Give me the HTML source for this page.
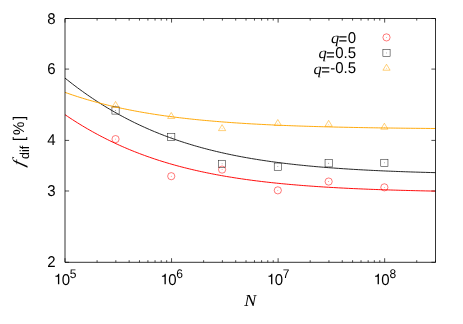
<!DOCTYPE html>
<html><head><meta charset="utf-8"><title>plot</title>
<style>
html,body{margin:0;padding:0;background:#fff;}
svg{display:block;will-change:transform;}
text{font-family:"Liberation Sans",sans-serif;font-size:15.6px;fill:#000;text-rendering:geometricPrecision;}
.it{font-family:"Liberation Serif",serif;font-style:italic;}
.sm{font-size:12.5px;}
.sb{font-size:13px;}
</style></head><body>
<svg width="463" height="324" viewBox="0 0 463 324">
<rect width="463" height="324" fill="#fff"/>
<path d="M65.00,262.3 v-4.1 M65.00,18.5 v4.1 M97.08,262.3 v-2.1 M97.08,18.5 v2.1 M115.84,262.3 v-2.1 M115.84,18.5 v2.1 M129.15,262.3 v-2.1 M129.15,18.5 v2.1 M139.48,262.3 v-2.1 M139.48,18.5 v2.1 M147.91,262.3 v-2.1 M147.91,18.5 v2.1 M155.05,262.3 v-2.1 M155.05,18.5 v2.1 M161.23,262.3 v-2.1 M161.23,18.5 v2.1 M166.68,262.3 v-2.1 M166.68,18.5 v2.1 M171.55,262.3 v-4.1 M171.55,18.5 v4.1 M203.63,262.3 v-2.1 M203.63,18.5 v2.1 M222.39,262.3 v-2.1 M222.39,18.5 v2.1 M235.71,262.3 v-2.1 M235.71,18.5 v2.1 M246.03,262.3 v-2.1 M246.03,18.5 v2.1 M254.47,262.3 v-2.1 M254.47,18.5 v2.1 M261.60,262.3 v-2.1 M261.60,18.5 v2.1 M267.78,262.3 v-2.1 M267.78,18.5 v2.1 M273.23,262.3 v-2.1 M273.23,18.5 v2.1 M278.11,262.3 v-4.1 M278.11,18.5 v4.1 M310.18,262.3 v-2.1 M310.18,18.5 v2.1 M328.95,262.3 v-2.1 M328.95,18.5 v2.1 M342.26,262.3 v-2.1 M342.26,18.5 v2.1 M352.59,262.3 v-2.1 M352.59,18.5 v2.1 M361.02,262.3 v-2.1 M361.02,18.5 v2.1 M368.16,262.3 v-2.1 M368.16,18.5 v2.1 M374.33,262.3 v-2.1 M374.33,18.5 v2.1 M379.79,262.3 v-2.1 M379.79,18.5 v2.1 M384.66,262.3 v-4.1 M384.66,18.5 v4.1 M416.74,262.3 v-2.1 M416.74,18.5 v2.1 M435.50,262.3 v-2.1 M435.50,18.5 v2.1 M65.0,262.30 h4.1 M435.5,262.30 h-4.1 M65.0,190.99 h4.1 M435.5,190.99 h-4.1 M65.0,140.40 h4.1 M435.5,140.40 h-4.1 M65.0,69.09 h4.1 M435.5,69.09 h-4.1 M65.0,18.50 h4.1 M435.5,18.50 h-4.1" stroke="#000" stroke-width="0.7" fill="none"/>
<path d="M65.00,114.67 L67.49,116.35 L69.97,118.00 L72.46,119.62 L74.95,121.22 L77.43,122.78 L79.92,124.32 L82.41,125.83 L84.89,127.32 L87.38,128.77 L89.87,130.20 L92.35,131.60 L94.84,132.98 L97.33,134.33 L99.81,135.66 L102.30,136.96 L104.79,138.23 L107.27,139.48 L109.76,140.70 L112.24,141.91 L114.73,143.08 L117.22,144.24 L119.70,145.37 L122.19,146.47 L124.68,147.56 L127.16,148.62 L129.65,149.66 L132.14,150.68 L134.62,151.68 L137.11,152.65 L139.60,153.61 L142.08,154.54 L144.57,155.46 L147.06,156.36 L149.54,157.23 L152.03,158.09 L154.52,158.93 L157.00,159.75 L159.49,160.55 L161.98,161.34 L164.46,162.10 L166.95,162.85 L169.44,163.59 L171.92,164.30 L174.41,165.01 L176.90,165.69 L179.38,166.36 L181.87,167.01 L184.36,167.65 L186.84,168.28 L189.33,168.89 L191.82,169.48 L194.30,170.07 L196.79,170.63 L199.28,171.19 L201.76,171.73 L204.25,172.26 L206.73,172.78 L209.22,173.28 L211.71,173.77 L214.19,174.26 L216.68,174.72 L219.17,175.18 L221.65,175.63 L224.14,176.07 L226.63,176.49 L229.11,176.91 L231.60,177.31 L234.09,177.71 L236.57,178.10 L239.06,178.47 L241.55,178.84 L244.03,179.20 L246.52,179.55 L249.01,179.89 L251.49,180.22 L253.98,180.55 L256.47,180.86 L258.95,181.17 L261.44,181.47 L263.93,181.77 L266.41,182.05 L268.90,182.33 L271.39,182.60 L273.87,182.87 L276.36,183.13 L278.85,183.38 L281.33,183.63 L283.82,183.86 L286.31,184.10 L288.79,184.33 L291.28,184.55 L293.77,184.76 L296.25,184.98 L298.74,185.18 L301.22,185.38 L303.71,185.58 L306.20,185.77 L308.68,185.95 L311.17,186.13 L313.66,186.31 L316.14,186.48 L318.63,186.65 L321.12,186.81 L323.60,186.97 L326.09,187.12 L328.58,187.27 L331.06,187.42 L333.55,187.56 L336.04,187.70 L338.52,187.84 L341.01,187.97 L343.50,188.10 L345.98,188.23 L348.47,188.35 L350.96,188.47 L353.44,188.58 L355.93,188.70 L358.42,188.81 L360.90,188.91 L363.39,189.02 L365.88,189.12 L368.36,189.22 L370.85,189.32 L373.34,189.41 L375.82,189.50 L378.31,189.59 L380.80,189.68 L383.28,189.76 L385.77,189.84 L388.26,189.92 L390.74,190.00 L393.23,190.08 L395.71,190.15 L398.20,190.23 L400.69,190.30 L403.17,190.36 L405.66,190.43 L408.15,190.50 L410.63,190.56 L413.12,190.62 L415.61,190.68 L418.09,190.74 L420.58,190.80 L423.07,190.85 L425.55,190.91 L428.04,190.96 L430.53,191.01 L433.01,191.06 L435.50,191.11" fill="none" stroke="#ff0000" stroke-width="0.95"/>
<path d="M65.00,78.10 L67.49,80.09 L69.97,82.04 L72.46,83.96 L74.95,85.86 L77.43,87.72 L79.92,89.55 L82.41,91.35 L84.89,93.13 L87.38,94.87 L89.87,96.58 L92.35,98.27 L94.84,99.92 L97.33,101.55 L99.81,103.14 L102.30,104.71 L104.79,106.26 L107.27,107.77 L109.76,109.26 L112.24,110.72 L114.73,112.15 L117.22,113.55 L119.70,114.93 L122.19,116.29 L124.68,117.61 L127.16,118.92 L129.65,120.19 L132.14,121.45 L134.62,122.67 L137.11,123.88 L139.60,125.06 L142.08,126.21 L144.57,127.34 L147.06,128.45 L149.54,129.54 L152.03,130.61 L154.52,131.65 L157.00,132.67 L159.49,133.67 L161.98,134.65 L164.46,135.61 L166.95,136.54 L169.44,137.46 L171.92,138.36 L174.41,139.24 L176.90,140.10 L179.38,140.94 L181.87,141.76 L184.36,142.57 L186.84,143.35 L189.33,144.12 L191.82,144.87 L194.30,145.61 L196.79,146.33 L199.28,147.03 L201.76,147.72 L204.25,148.39 L206.73,149.04 L209.22,149.69 L211.71,150.31 L214.19,150.92 L216.68,151.52 L219.17,152.10 L221.65,152.67 L224.14,153.23 L226.63,153.77 L229.11,154.30 L231.60,154.82 L234.09,155.33 L236.57,155.82 L239.06,156.30 L241.55,156.78 L244.03,157.24 L246.52,157.68 L249.01,158.12 L251.49,158.55 L253.98,158.96 L256.47,159.37 L258.95,159.77 L261.44,160.16 L263.93,160.53 L266.41,160.90 L268.90,161.26 L271.39,161.61 L273.87,161.95 L276.36,162.29 L278.85,162.61 L281.33,162.93 L283.82,163.24 L286.31,163.54 L288.79,163.84 L291.28,164.12 L293.77,164.40 L296.25,164.68 L298.74,164.94 L301.22,165.20 L303.71,165.45 L306.20,165.70 L308.68,165.94 L311.17,166.17 L313.66,166.40 L316.14,166.63 L318.63,166.84 L321.12,167.05 L323.60,167.26 L326.09,167.46 L328.58,167.66 L331.06,167.85 L333.55,168.03 L336.04,168.21 L338.52,168.39 L341.01,168.56 L343.50,168.73 L345.98,168.89 L348.47,169.05 L350.96,169.21 L353.44,169.36 L355.93,169.51 L358.42,169.65 L360.90,169.79 L363.39,169.93 L365.88,170.06 L368.36,170.19 L370.85,170.31 L373.34,170.44 L375.82,170.56 L378.31,170.67 L380.80,170.79 L383.28,170.90 L385.77,171.00 L388.26,171.11 L390.74,171.21 L393.23,171.31 L395.71,171.41 L398.20,171.50 L400.69,171.59 L403.17,171.68 L405.66,171.77 L408.15,171.85 L410.63,171.94 L413.12,172.02 L415.61,172.10 L418.09,172.17 L420.58,172.25 L423.07,172.32 L425.55,172.39 L428.04,172.46 L430.53,172.52 L433.01,172.59 L435.50,172.65" fill="none" stroke="#1a1a1a" stroke-width="0.95"/>
<path d="M65.00,92.37 L67.49,93.25 L69.97,94.12 L72.46,94.96 L74.95,95.79 L77.43,96.60 L79.92,97.39 L82.41,98.16 L84.89,98.92 L87.38,99.66 L89.87,100.38 L92.35,101.09 L94.84,101.78 L97.33,102.46 L99.81,103.12 L102.30,103.76 L104.79,104.39 L107.27,105.01 L109.76,105.61 L112.24,106.20 L114.73,106.77 L117.22,107.33 L119.70,107.88 L122.19,108.41 L124.68,108.93 L127.16,109.44 L129.65,109.94 L132.14,110.42 L134.62,110.90 L137.11,111.36 L139.60,111.81 L142.08,112.25 L144.57,112.68 L147.06,113.10 L149.54,113.51 L152.03,113.91 L154.52,114.30 L157.00,114.68 L159.49,115.05 L161.98,115.41 L164.46,115.77 L166.95,116.11 L169.44,116.45 L171.92,116.77 L174.41,117.09 L176.90,117.41 L179.38,117.71 L181.87,118.01 L184.36,118.29 L186.84,118.58 L189.33,118.85 L191.82,119.12 L194.30,119.38 L196.79,119.63 L199.28,119.88 L201.76,120.13 L204.25,120.36 L206.73,120.59 L209.22,120.81 L211.71,121.03 L214.19,121.25 L216.68,121.45 L219.17,121.66 L221.65,121.85 L224.14,122.05 L226.63,122.23 L229.11,122.41 L231.60,122.59 L234.09,122.77 L236.57,122.93 L239.06,123.10 L241.55,123.26 L244.03,123.42 L246.52,123.57 L249.01,123.72 L251.49,123.86 L253.98,124.00 L256.47,124.14 L258.95,124.27 L261.44,124.40 L263.93,124.53 L266.41,124.65 L268.90,124.77 L271.39,124.89 L273.87,125.00 L276.36,125.12 L278.85,125.22 L281.33,125.33 L283.82,125.43 L286.31,125.53 L288.79,125.63 L291.28,125.72 L293.77,125.82 L296.25,125.91 L298.74,126.00 L301.22,126.08 L303.71,126.16 L306.20,126.25 L308.68,126.32 L311.17,126.40 L313.66,126.48 L316.14,126.55 L318.63,126.62 L321.12,126.69 L323.60,126.76 L326.09,126.82 L328.58,126.89 L331.06,126.95 L333.55,127.01 L336.04,127.07 L338.52,127.13 L341.01,127.18 L343.50,127.24 L345.98,127.29 L348.47,127.34 L350.96,127.39 L353.44,127.44 L355.93,127.49 L358.42,127.53 L360.90,127.58 L363.39,127.62 L365.88,127.67 L368.36,127.71 L370.85,127.75 L373.34,127.79 L375.82,127.83 L378.31,127.86 L380.80,127.90 L383.28,127.94 L385.77,127.97 L388.26,128.01 L390.74,128.04 L393.23,128.07 L395.71,128.10 L398.20,128.13 L400.69,128.16 L403.17,128.19 L405.66,128.22 L408.15,128.25 L410.63,128.27 L413.12,128.30 L415.61,128.32 L418.09,128.35 L420.58,128.37 L423.07,128.39 L425.55,128.42 L428.04,128.44 L430.53,128.46 L433.01,128.48 L435.50,128.50" fill="none" stroke="#ffa500" stroke-width="0.95"/>
<circle cx="115.54" cy="139.10" r="3.6" fill="none" stroke="#ff0000" stroke-width="0.52"/><circle cx="115.54" cy="139.10" r="0.45" fill="#ff0000" opacity="0.75"/>
<circle cx="171.25" cy="176.20" r="3.6" fill="none" stroke="#ff0000" stroke-width="0.52"/><circle cx="171.25" cy="176.20" r="0.45" fill="#ff0000" opacity="0.75"/>
<circle cx="222.09" cy="169.60" r="3.6" fill="none" stroke="#ff0000" stroke-width="0.52"/><circle cx="222.09" cy="169.60" r="0.45" fill="#ff0000" opacity="0.75"/>
<circle cx="277.81" cy="190.35" r="3.6" fill="none" stroke="#ff0000" stroke-width="0.52"/><circle cx="277.81" cy="190.35" r="0.45" fill="#ff0000" opacity="0.75"/>
<circle cx="328.65" cy="181.55" r="3.6" fill="none" stroke="#ff0000" stroke-width="0.52"/><circle cx="328.65" cy="181.55" r="0.45" fill="#ff0000" opacity="0.75"/>
<circle cx="384.36" cy="187.35" r="3.6" fill="none" stroke="#ff0000" stroke-width="0.52"/><circle cx="384.36" cy="187.35" r="0.45" fill="#ff0000" opacity="0.75"/>
<rect x="111.94" y="106.90" width="7.2" height="7.2" fill="none" stroke="#1a1a1a" stroke-width="0.52"/><circle cx="115.54" cy="110.50" r="0.45" fill="#1a1a1a" opacity="0.75"/>
<rect x="167.65" y="133.30" width="7.2" height="7.2" fill="none" stroke="#1a1a1a" stroke-width="0.52"/><circle cx="171.25" cy="136.90" r="0.45" fill="#1a1a1a" opacity="0.75"/>
<rect x="218.49" y="160.25" width="7.2" height="7.2" fill="none" stroke="#1a1a1a" stroke-width="0.52"/><circle cx="222.09" cy="163.85" r="0.45" fill="#1a1a1a" opacity="0.75"/>
<rect x="274.21" y="163.05" width="7.2" height="7.2" fill="none" stroke="#1a1a1a" stroke-width="0.52"/><circle cx="277.81" cy="166.65" r="0.45" fill="#1a1a1a" opacity="0.75"/>
<rect x="325.05" y="159.70" width="7.2" height="7.2" fill="none" stroke="#1a1a1a" stroke-width="0.52"/><circle cx="328.65" cy="163.30" r="0.45" fill="#1a1a1a" opacity="0.75"/>
<rect x="380.76" y="159.25" width="7.2" height="7.2" fill="none" stroke="#1a1a1a" stroke-width="0.52"/><circle cx="384.36" cy="162.85" r="0.45" fill="#1a1a1a" opacity="0.75"/>
<path d="M115.54,101.43 L111.94,107.41 L119.14,107.41 Z" fill="none" stroke="#ffa500" stroke-width="0.52"/><circle cx="115.54" cy="105.50" r="0.45" fill="#ffa500" opacity="0.75"/>
<path d="M171.25,112.48 L167.65,118.46 L174.85,118.46 Z" fill="none" stroke="#ffa500" stroke-width="0.52"/><circle cx="171.25" cy="116.55" r="0.45" fill="#ffa500" opacity="0.75"/>
<path d="M222.09,124.63 L218.49,130.61 L225.69,130.61 Z" fill="none" stroke="#ffa500" stroke-width="0.52"/><circle cx="222.09" cy="128.70" r="0.45" fill="#ffa500" opacity="0.75"/>
<path d="M277.81,119.53 L274.21,125.51 L281.41,125.51 Z" fill="none" stroke="#ffa500" stroke-width="0.52"/><circle cx="277.81" cy="123.60" r="0.45" fill="#ffa500" opacity="0.75"/>
<path d="M328.65,120.33 L325.05,126.31 L332.25,126.31 Z" fill="none" stroke="#ffa500" stroke-width="0.52"/><circle cx="328.65" cy="124.40" r="0.45" fill="#ffa500" opacity="0.75"/>
<path d="M384.36,123.23 L380.76,129.21 L387.96,129.21 Z" fill="none" stroke="#ffa500" stroke-width="0.52"/><circle cx="384.36" cy="127.30" r="0.45" fill="#ffa500" opacity="0.75"/>
<path d="M65.0,18.5 H435.5 V262.3 H65.0 Z" fill="none" stroke="#000" stroke-width="0.8" stroke-linejoin="miter"/>
<circle cx="386.50" cy="37.40" r="3.6" fill="none" stroke="#ff0000" stroke-width="0.52"/><circle cx="386.50" cy="37.40" r="0.45" fill="#ff0000" opacity="0.75"/>
<rect x="382.90" y="49.30" width="7.2" height="7.2" fill="none" stroke="#1a1a1a" stroke-width="0.52"/><circle cx="386.50" cy="52.90" r="0.45" fill="#1a1a1a" opacity="0.75"/>
<path d="M386.50,64.23 L382.90,70.21 L390.10,70.21 Z" fill="none" stroke="#ffa500" stroke-width="0.52"/><circle cx="386.50" cy="68.30" r="0.45" fill="#ffa500" opacity="0.75"/>
<text transform="translate(356.30,42.90) scale(0.9615,1)" text-anchor="end"><tspan dx="-0.3" dy="1.5">=</tspan><tspan dx="0.3" dy="-1.5">0</tspan></text>
<text transform="translate(339.30,43.20) scale(1.0577,1)" text-anchor="end" class="it">q</text>
<text transform="translate(356.30,58.10) scale(0.9615,1)" text-anchor="end"><tspan dx="-0.3" dy="1.5">=</tspan><tspan dx="0.3" dy="-1.5">0.5</tspan></text>
<text transform="translate(326.79,58.40) scale(1.0577,1)" text-anchor="end" class="it">q</text>
<text transform="translate(356.30,73.40) scale(0.9615,1)" text-anchor="end"><tspan dx="-0.3" dy="1.5">=</tspan><tspan dx="0.3" dy="-1.5">-0.5</tspan></text>
<text transform="translate(321.80,73.70) scale(1.0577,1)" text-anchor="end" class="it">q</text>
<text transform="translate(55.70,267.30) scale(0.9615,1)" text-anchor="end">2</text>
<text transform="translate(55.70,195.99) scale(0.9615,1)" text-anchor="end">3</text>
<text transform="translate(55.70,145.40) scale(0.9615,1)" text-anchor="end">4</text>
<text transform="translate(55.70,74.09) scale(0.9615,1)" text-anchor="end">6</text>
<text transform="translate(55.70,23.50) scale(0.9615,1)" text-anchor="end">8</text>
<path d="M59.25,284.30 L57.93,284.30 L57.93,276.73 L55.38,276.73 L55.38,275.78 C56.87,275.72 57.92,275.15 58.29,273.75 L59.25,273.75 Z" fill="#000"/>
<text transform="translate(61.64,284.50) scale(0.9615,1)" text-anchor="start">0<tspan class="sm" dx="-0.25" dy="-6.8">5</tspan></text>
<path d="M165.81,284.30 L164.49,284.30 L164.49,276.73 L161.94,276.73 L161.94,275.78 C163.42,275.72 164.47,275.15 164.85,273.75 L165.81,273.75 Z" fill="#000"/>
<text transform="translate(168.19,284.50) scale(0.9615,1)" text-anchor="start">0<tspan class="sm" dx="-0.25" dy="-6.8">6</tspan></text>
<path d="M272.36,284.30 L271.04,284.30 L271.04,276.73 L268.49,276.73 L268.49,275.78 C269.98,275.72 271.03,275.15 271.40,273.75 L272.36,273.75 Z" fill="#000"/>
<text transform="translate(274.75,284.50) scale(0.9615,1)" text-anchor="start">0<tspan class="sm" dx="-0.25" dy="-6.8">7</tspan></text>
<path d="M378.92,284.30 L377.60,284.30 L377.60,276.73 L375.05,276.73 L375.05,275.78 C376.53,275.72 377.58,275.15 377.96,273.75 L378.92,273.75 Z" fill="#000"/>
<text transform="translate(381.30,284.50) scale(0.9615,1)" text-anchor="start">0<tspan class="sm" dx="-0.25" dy="-6.8">8</tspan></text>
<text transform="translate(250.40,306.40) scale(1.1635,1.09)" text-anchor="middle" class="it">N</text>
<g transform="translate(24.4,166.3) rotate(-90)"><text transform="translate(-0.75,0.00) scale(1.2019,1.06) skewX(-12)" text-anchor="start" class="it">f</text><text transform="translate(7.40,4.60) scale(0.9615,1)" text-anchor="start" class="sb">dif</text><text transform="translate(25.40,0.00) scale(0.9615,1)" text-anchor="start" letter-spacing="1.8">[%]</text></g>
</svg></body></html>
